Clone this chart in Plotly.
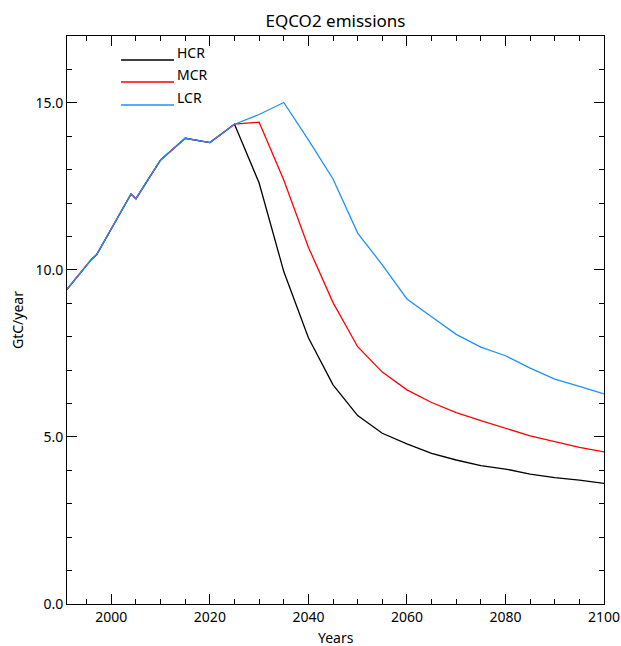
import plotly.graph_objects as go

# Equivalent CO2 emissions pathways (GtC/year) for three scenarios
years = [1991, 1996, 1997, 2004, 2005, 2010, 2015, 2020, 2025, 2030, 2035,
         2040, 2045, 2050, 2055, 2060, 2065, 2070, 2075, 2080, 2085, 2090, 2095, 2100]

history = [9.42, 10.32, 10.45, 12.27, 12.13, 13.29, 13.94, 13.81, 14.36]

hcr = history + [12.60, 9.95, 7.97, 6.56, 5.64, 5.11, 4.79, 4.51, 4.31, 4.14, 4.04, 3.89, 3.78, 3.71, 3.61]
mcr = history + [14.42, 12.69, 10.68, 9.02, 7.70, 6.94, 6.41, 6.03, 5.73, 5.49, 5.26, 5.03, 4.86, 4.69, 4.55]
lcr = history + [14.65, 15.01, 13.89, 12.72, 11.10, 10.15, 9.13, 8.60, 8.07, 7.69, 7.43, 7.06, 6.73, 6.51, 6.29]

series_names = ["HCR", "MCR", "LCR"]
series_values = [hcr, mcr, lcr]
series_colors = ["#000000", "#ff0000", "#1e90ff"]

x_ticks = [2000, 2020, 2040, 2060, 2080, 2100]
y_ticks = [0.0, 5.0, 10.0, 15.0]

FONT = "Noto Sans"

fig = go.Figure()
for name, vals, col in zip(series_names, series_values, series_colors):
    fig.add_trace(go.Scatter(x=years, y=vals, mode="lines", name=name,
                             line=dict(color=col, width=1.3), showlegend=False))

# Hand-drawn legend in the upper left corner
W, H = 621, 646
L, R, T, B = 67, 17, 36, 42
pw, ph = W - L - R, H - T - B
legend_rows = [60, 82, 105]
for name, col, yy in zip(series_names, series_colors, legend_rows):
    yp = 1 - (yy - T) / ph
    x0 = (121 - L) / pw
    x1 = (174 - L) / pw
    fig.add_shape(type="line", xref="paper", yref="paper", x0=x0, x1=x1, y0=yp, y1=yp,
                  line=dict(color=col, width=1.5))
    fig.add_annotation(xref="paper", yref="paper", x=x1 + 1 / pw, y=yp, text=name,
                       showarrow=False, xanchor="left", yanchor="bottom", yshift=-4,
                       font=dict(family=FONT, size=14, color="#000000"))

axis_common = dict(showline=True, linecolor="#000000", linewidth=1, mirror="ticks",
                   ticks="inside", tickcolor="#000000", ticklen=10, tickwidth=1,
                   showgrid=False, zeroline=False, automargin=False,
                   tickfont=dict(family=FONT, size=14, color="#000000"))

fig.update_xaxes(range=[1991, 2100], tickvals=x_ticks,
                 minor=dict(dtick=5, ticks="inside", ticklen=5, tickcolor="#000000", showgrid=False),
                 **axis_common)
fig.update_yaxes(range=[0, 17], tickvals=y_ticks, tickformat=".1f",
                 minor=dict(dtick=1, ticks="inside", ticklen=5, tickcolor="#000000", showgrid=False),
                 **axis_common)

fig.add_annotation(xref="paper", yref="paper", x=0.5, y=-(637 - 604) / ph, text="Years",
                   showarrow=False, xanchor="center", yanchor="middle",
                   font=dict(family=FONT, size=14, color="#000000"))
fig.add_annotation(xref="paper", yref="paper", x=-(L - 17) / pw, y=0.5, text="GtC/year",
                   textangle=-90, showarrow=False, xanchor="center", yanchor="middle",
                   font=dict(family=FONT, size=14, color="#000000"))

fig.update_layout(
    width=W, height=H,
    margin=dict(l=L, r=R, t=T, b=B, autoexpand=False),
    paper_bgcolor="white", plot_bgcolor="white",
    title=dict(text="EQCO2 emissions", x=(L + pw / 2) / W, xanchor="center",
               yref="container", y=1 - 21 / H, yanchor="middle", automargin=False,
               font=dict(family=FONT, size=17, color="#000000")),
)

fig.write_html("out.html")
